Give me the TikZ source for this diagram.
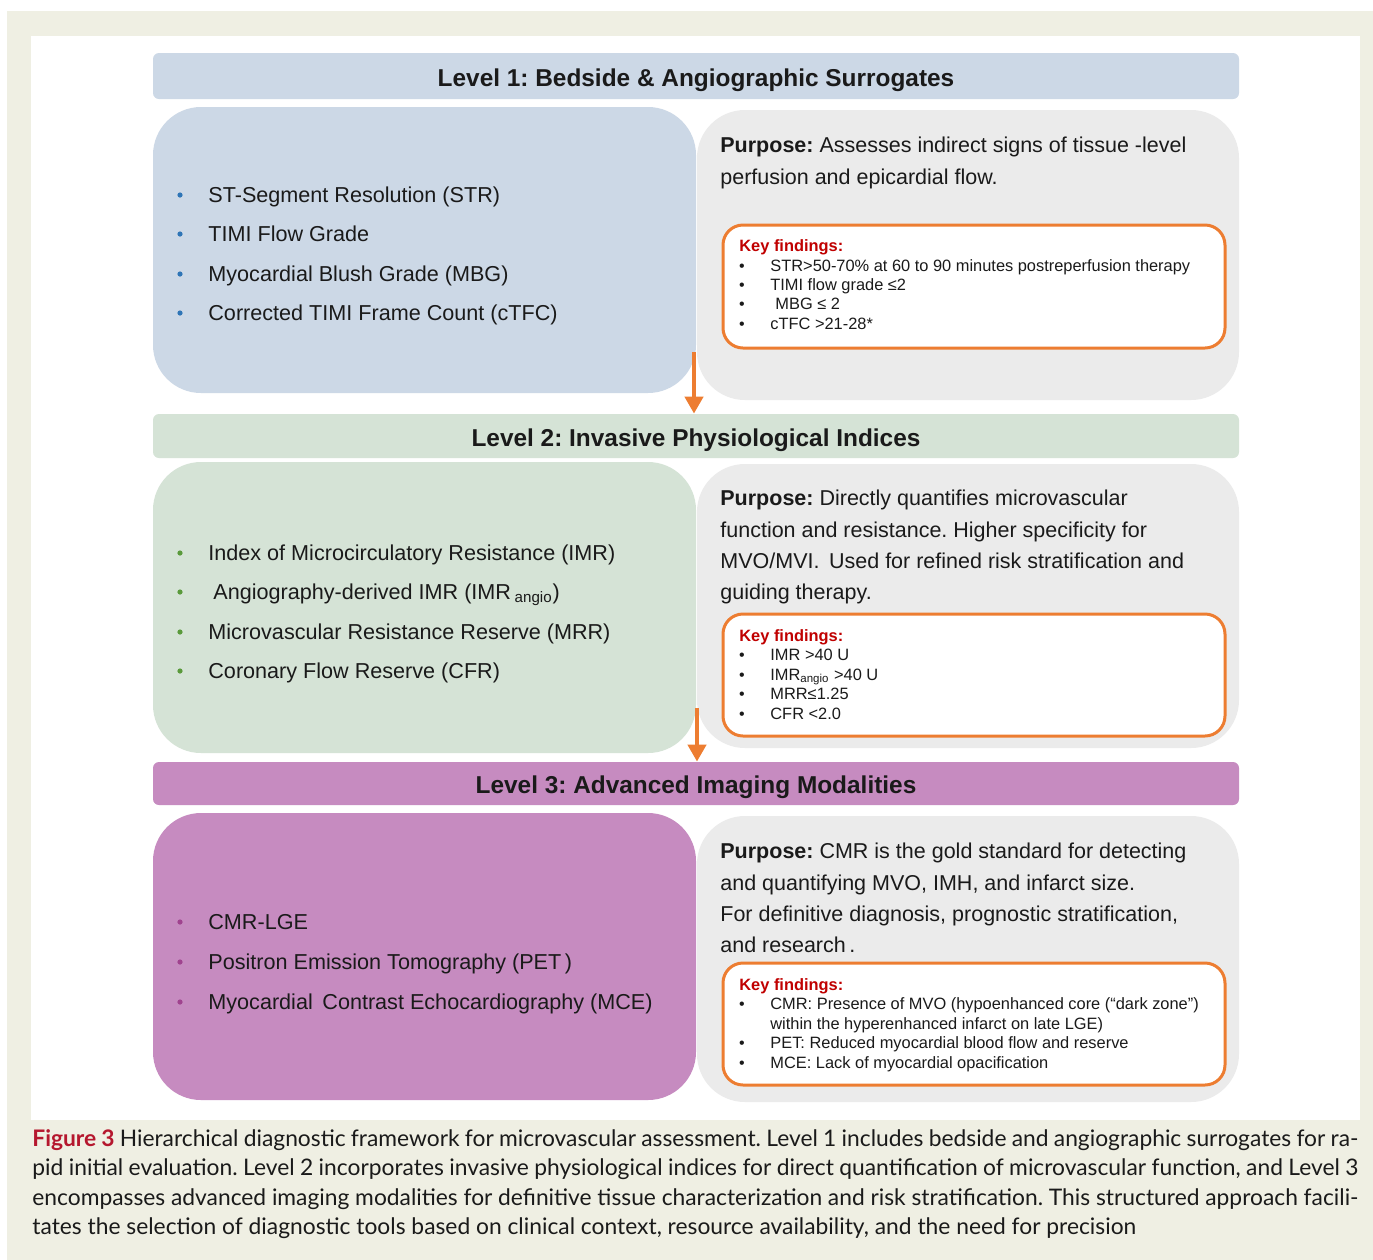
\documentclass[tikz,border=0pt]{standalone}
\usepackage{fontspec}
\setmainfont{Liberation Sans}
\newfontfamily\capfont{Lato}
\usetikzlibrary{arrows.meta}
\definecolor{cream}{HTML}{EFEFE3}
\definecolor{bluebg}{HTML}{CCD8E6}
\definecolor{greenbg}{HTML}{D5E3D6}
\definecolor{purplebg}{HTML}{C68BC0}
\definecolor{graybg}{HTML}{EBEBEB}
\definecolor{orng}{HTML}{ED7D31}
\definecolor{kfred}{HTML}{C00000}
\definecolor{bulblue}{HTML}{2E75B6}
\definecolor{bulgreen}{HTML}{5A9A3C}
\definecolor{bulpurple}{HTML}{A0438F}
\definecolor{capred}{HTML}{B5172E}
\definecolor{txt}{HTML}{1A1A1A}
\begin{document}
\frenchspacing
\begin{tikzpicture}[x=0.5pt,y=-0.5pt,
  hdr/.style={rectangle, rounded corners=3pt, inner sep=0pt, minimum width=543pt},
  hdrtext/.style={inner sep=0pt, yshift=-2pt, font=\fontsize{12.2}{14}\selectfont\bfseries, text=txt},
  leftbox/.style={rectangle, rounded corners=24pt, inner sep=0pt, minimum width=271.5pt},
  rightbox/.style={rectangle, rounded corners=24pt, inner sep=0pt, minimum width=271pt, fill=graybg},
  kfbox/.style={rectangle, rounded corners=10pt, inner sep=0pt, minimum width=251pt, fill=white, draw=orng, line width=1.5pt},
  item/.style={anchor=base west, inner sep=0pt, font=\fontsize{10.8}{12}\selectfont, text=txt},
  bul/.style={circle, inner sep=0pt, minimum size=2.6pt, fill=#1},
  purp/.style={anchor=base west, inner sep=0pt, font=\fontsize{10.75}{12}\selectfont, text=txt},
  kft/.style={anchor=base west, inner sep=0pt, font=\fontsize{8.2}{9}\selectfont, text=txt},
  kfh/.style={anchor=base west, inner sep=0pt, font=\fontsize{8.2}{9}\selectfont\bfseries, text=kfred},
  kfb/.style={anchor=base, inner sep=0pt, font=\fontsize{8}{9}\selectfont, text=txt},
  arr/.style={draw=orng, line width=2.2pt, -{Triangle[width=9pt,length=8.5pt]}},
  capl/.style={anchor=base west, inner sep=0pt, font=\capfont\fontsize{11.4}{13}\selectfont, text=txt}
]
\useasboundingbox (0,0) rectangle (1373,1260);
\fill[white] (0,0) rectangle (1373,1260);
\fill[cream] (7,11) rectangle (1373,1260);
\fill[white] (31,36) rectangle (1360,1120);

% ---------------- Level 1 ----------------
\node[hdr, fill=bluebg, minimum height=23pt] (h1) at (696,76) {};
\node[hdrtext] (h1t) at (h1.center) {Level 1: Bedside \& Angiographic Surrogates};
\node[leftbox, fill=bluebg, minimum height=143pt] (l1) at (424.5,250) {};
\node[rightbox, minimum height=145pt] (r1) at (968,255) {};
\node[kfbox, minimum height=61.5pt] (k1) at (974,286.5) {};

\foreach \y/\t [count=\i] in {202/ST-Segment Resolution (STR), 241/TIMI Flow Grade, 281/Myocardial Blush Grade (MBG), 320/Corrected TIMI Frame Count (cTFC)}{
  \node[bul=bulblue] (l1b\i) at (180,\y-7) {};
  \node[item] (l1t\i) at (208,\y) {\t};
}
\node[purp] (p1a) at (720,152) {\textbf{Purpose:} Assesses indirect signs of tissue -level};
\node[purp] (p1b) at (720,184) {perfusion and epicardial flow.};

\node[kfh] (k1h) at (739,251) {Key findings:};
\node[kfb] (k1b1) at (742,271) {•}; \node[kft] (k1t1) at (770,271) {STR>50-70\% at 60 to 90 minutes postreperfusion therapy};
\node[kfb] (k1b2) at (742,290) {•}; \node[kft] (k1t2) at (770,290) {TIMI flow grade ≤2};
\node[kfb] (k1b3) at (742,309) {•}; \node[kft] (k1t3) at (775,309) {MBG ≤ 2};
\node[kfb] (k1b4) at (742,329) {•}; \node[kft] (k1t4) at (770,329) {cTFC >21-28*};

% ---------------- Level 2 ----------------
\node[hdr, fill=greenbg, minimum height=22pt] (h2) at (696,436) {};
\node[hdrtext] (h2t) at (h2.center) {Level 2: Invasive Physiological Indices};
\node[leftbox, fill=greenbg, minimum height=145.5pt] (l2) at (424.5,607.5) {};
\node[rightbox, minimum height=142pt] (r2) at (968,606) {};
\node[kfbox, minimum height=61pt] (k2) at (974,675) {};

\node[bul=bulgreen] (l2b1) at (180,553) {};
\node[item] (l2t1) at (208,560) {Index of Microcirculatory Resistance (IMR)};
\node[bul=bulgreen] (l2b2) at (180,592) {};
\node[item] (l2t2) at (213,599) {Angiography-derived IMR (IMR\,\textsubscript{angio})};
\node[bul=bulgreen] (l2b3) at (180,632) {};
\node[item] (l2t3) at (208,639) {Microvascular Resistance Reserve (MRR)};
\node[bul=bulgreen] (l2b4) at (180,671) {};
\node[item] (l2t4) at (208,678) {Coronary Flow Reserve (CFR)};

\node[purp] (p2a) at (720,505) {\textbf{Purpose:} Directly quantifies microvascular};
\node[purp] (p2b) at (720,537) {function and resistance. Higher specificity for};
\node[purp] (p2c) at (720,568) {MVO/MVI.\ \,Used for refined risk stratification and};
\node[purp] (p2d) at (720,599) {guiding therapy.};

\node[kfh] (k2h) at (739,641) {Key findings:};
\node[kfb] (k2b1) at (742,660) {•}; \node[kft] (k2t1) at (770,660) {IMR >40 U};
\node[kfb] (k2b2) at (742,680) {•}; \node[kft] (k2t2) at (770,680) {IMR\textsubscript{angio} >40 U};
\node[kfb] (k2b3) at (742,699) {•}; \node[kft] (k2t3) at (770,699) {MRR≤1.25};
\node[kfb] (k2b4) at (742,719) {•}; \node[kft] (k2t4) at (770,719) {CFR <2.0};

% ---------------- Level 3 ----------------
\node[hdr, fill=purplebg, minimum height=21.5pt] (h3) at (696,783.5) {};
\node[hdrtext] (h3t) at (h3.center) {Level 3: Advanced Imaging Modalities};
\node[leftbox, fill=purplebg, minimum height=143.5pt] (l3) at (424.5,956.5) {};
\node[rightbox, minimum height=143pt] (r3) at (968,959) {};
\node[kfbox, minimum height=61pt] (k3) at (974,1024) {};

\foreach \y/\t [count=\i] in {929/CMR-LGE, 969/Positron Emission Tomography (PET\,), 1009/Myocardial\ \,Contrast Echocardiography (MCE)}{
  \node[bul=bulpurple] (l3b\i) at (180,\y-7) {};
  \node[item] (l3t\i) at (208,\y) {\t};
}
\node[purp] (p3a) at (720,858) {\textbf{Purpose:} CMR is the gold standard for detecting};
\node[purp] (p3b) at (720,890) {and quantifying MVO, IMH, and infarct size.};
\node[purp] (p3c) at (720,921) {For definitive diagnosis, prognostic stratification,};
\node[purp] (p3d) at (720,952) {and research\,.};

\node[kfh] (k3h) at (739,990) {Key findings:};
\node[kfb] (k3b1) at (742,1009) {•}; \node[kft] (k3t1) at (770,1009) {CMR: Presence of MVO (hypoenhanced core (“dark zone”)};
\node[kft] (k3t1b) at (770,1029) {within the hyperenhanced infarct on late LGE)};
\node[kfb] (k3b2) at (742,1048) {•}; \node[kft] (k3t2) at (770,1048) {PET: Reduced myocardial blood flow and reserve};
\node[kfb] (k3b3) at (742,1068) {•}; \node[kft] (k3t3) at (770,1068) {MCE: Lack of myocardial opacification};

% ---------------- Arrows ----------------
\coordinate (a1s) at (694,352);
\coordinate (a2s) at (697,708);
\draw[arr] (a1s) -- (a1s |- h2.north);
\draw[arr] (a2s) -- (a2s |- h3.north);

% ---------------- Caption ----------------
\node[capl] (c1) at (32,1146) {\makebox[663pt][s]{{\bfseries\color{capred}Figure 3} Hierarchical diagnostic framework for microvascular assessment. Level 1 includes bedside and angiographic surrogates for ra-}};
\node[capl] (c2) at (32,1175.5) {\makebox[663pt][s]{pid initial evaluation. Level 2 incorporates invasive physiological indices for direct quantification of microvascular function, and Level 3}};
\node[capl] (c3) at (32,1205) {\makebox[663pt][s]{encompasses advanced imaging modalities for definitive tissue characterization and risk stratification. This structured approach facili-}};
\node[capl] (c4) at (32,1234.5) {tates the selection of diagnostic tools based on clinical context, resource availability, and the need for precision};
\end{tikzpicture}
\end{document}
